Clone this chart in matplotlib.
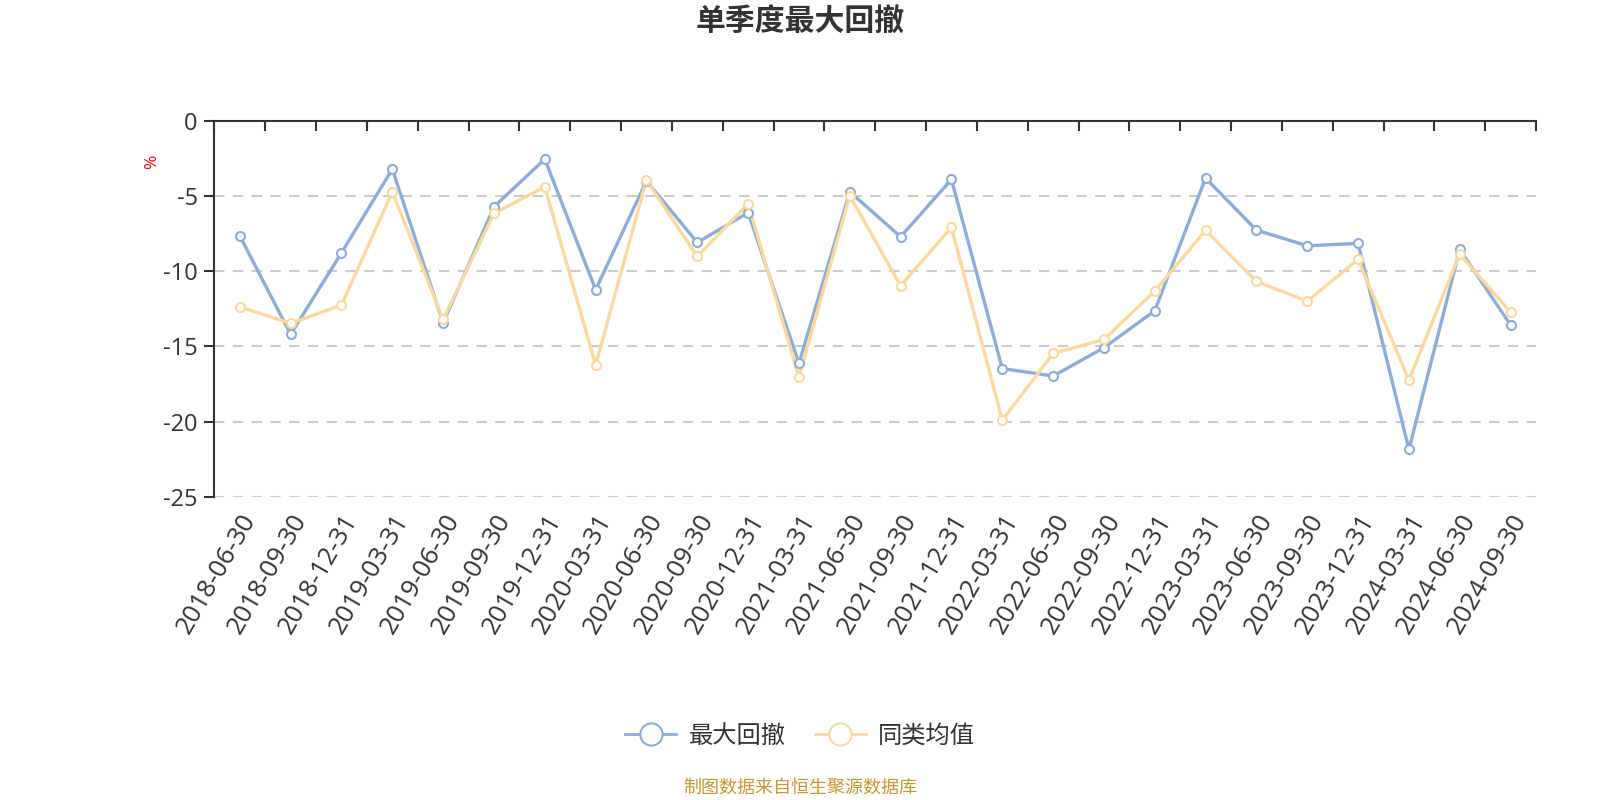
import matplotlib
matplotlib.use("Agg")
import matplotlib.pyplot as plt
from matplotlib.lines import Line2D

plt.rcParams['font.family'] = ['Open Sans', 'Noto Sans CJK SC', 'DejaVu Sans']

quarters = ["2018-06-30", "2018-09-30", "2018-12-31", "2019-03-31", "2019-06-30",
            "2019-09-30", "2019-12-31", "2020-03-31", "2020-06-30", "2020-09-30",
            "2020-12-31", "2021-03-31", "2021-06-30", "2021-09-30", "2021-12-31",
            "2022-03-31", "2022-06-30", "2022-09-30", "2022-12-31", "2023-03-31",
            "2023-06-30", "2023-09-30", "2023-12-31", "2024-03-31", "2024-06-30",
            "2024-09-30"]
max_dd = [-7.65, -14.2, -8.78, -3.21, -13.43, -5.72, -2.55, -11.23, -4.0, -8.09,
          -6.11, -16.13, -4.72, -7.71, -3.9, -16.47, -16.97, -15.09, -12.63, -3.81,
          -7.27, -8.31, -8.15, -21.85, -8.55, -13.58]
peer_avg = [-12.37, -13.47, -12.25, -4.72, -13.2, -6.16, -4.39, -16.24, -3.94, -9.02,
            -5.52, -17.04, -4.98, -10.97, -7.09, -19.9, -15.47, -14.54, -11.32, -7.29,
            -10.68, -11.99, -9.22, -17.24, -8.86, -12.74]
yticks = [0, -5, -10, -15, -20, -25]

blue = '#8caddb'
gold = '#fdd89b'
dark = '#333333'

def main():
    fig = plt.figure(figsize=(16, 8), dpi=100)
    ax = fig.add_axes([0.134, 0.379, 0.826, 0.470])
    x = list(range(len(quarters)))

    ax.plot(x, max_dd, color=blue, lw=2.4, zorder=3)
    ax.plot(x, peer_avg, color=gold, lw=2.4, zorder=3)
    ax.plot(x, max_dd, ls='none', marker='o', ms=6.5, mfc='white', mec=blue, mew=1.5, zorder=4)
    ax.plot(x, peer_avg, ls='none', marker='o', ms=6.5, mfc='white', mec=gold, mew=1.5, zorder=4)

    ax.set_xlim(-0.5, len(quarters) - 0.5)
    ax.set_ylim(-25, 0)

    # y axis
    ax.set_yticks(yticks)
    ax.set_yticklabels([str(v) for v in yticks], fontsize=17, color=dark)
    ax.tick_params(axis='y', direction='out', length=7, width=1.5, color=dark, pad=5)
    for v in yticks[1:]:
        ax.axhline(v, color='#cccccc', lw=1.5, ls=(0, (5, 4)), zorder=1)

    # x axis: line on top, labels below
    ax.set_xticks(x)
    ax.set_xticklabels(quarters, fontsize=18.5, color=dark, rotation=60,
                       ha='right', va='top', rotation_mode='anchor')
    ax.tick_params(axis='x', which='major', length=0, pad=9)
    ax.set_xticks([i - 0.5 for i in range(len(quarters) + 1)], minor=True)
    ax.tick_params(axis='x', which='minor', top=True, bottom=False, direction='in',
                   length=7, width=1.5, color=dark)

    for s in ['bottom', 'right']:
        ax.spines[s].set_visible(False)
    for s in ['top', 'left']:
        ax.spines[s].set_color(dark)
        ax.spines[s].set_linewidth(1.5)

    fig.text(0.095, 0.798, '%', color='red', fontsize=12.5, rotation=90,
             ha='center', va='center')
    fig.text(0.5, 0.971, '单季度最大回撤', fontsize=21.5, fontweight='bold',
             color=dark, ha='center', va='center')

    handles = [Line2D([], [], color=blue, lw=2, marker='o', ms=16, mfc='white', mew=1.5),
               Line2D([], [], color=gold, lw=2, marker='o', ms=16, mfc='white', mew=1.5)]
    fig.legend(handles, ['最大回撤', '同类均值'], loc='center', bbox_to_anchor=(0.5, 0.079),
               ncol=2, frameon=False, fontsize=17.5, handlelength=2.1, columnspacing=1.2,
               handletextpad=0.5, labelcolor=dark)

    fig.text(0.5, 0.015, '制图数据来自恒生聚源数据库', fontsize=13, color='#c9962f',
             ha='center', va='center')

    fig.savefig('out.png', dpi=100)

if __name__ == "__main__":
    main()
